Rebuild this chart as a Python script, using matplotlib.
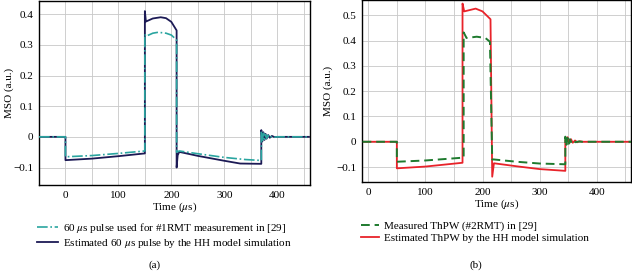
import numpy as np
import matplotlib
matplotlib.use("Agg")
import matplotlib.pyplot as plt

plt.rcParams['font.family'] = ['Liberation Serif', 'DejaVu Serif']
plt.rcParams['mathtext.fontset'] = 'stix'
plt.rcParams['font.size'] = 8

# (a) 60 us pulse
t_a_meas = [-50, 0, 0, 50, 100, 150, 150, 152, 165, 175, 190, 200, 210, 210, 215, 250, 300, 340, 370,
            370, 372, 374, 376, 378, 380, 383, 386, 390, 395, 400, 460]
v_a_meas = [0, 0, -0.065, -0.061, -0.054, -0.046, 0.335, 0.328, 0.338, 0.341, 0.338, 0.332, 0.316, -0.05, -0.046,
            -0.055, -0.067, -0.074, -0.077,
            0.015, -0.012, 0.012, -0.008, 0.008, -0.005, 0.005, -0.003, 0.002, -0.001, 0, 0]
t_a_est = [-50, 0, 0, 50, 100, 150, 150, 152, 165, 180, 190, 200, 210, 210, 212, 215, 250, 300, 330, 370,
           370, 372, 374, 376, 378, 380, 383, 386, 390, 395, 400, 460]
v_a_est = [0, 0, -0.076, -0.071, -0.063, -0.054, 0.41, 0.376, 0.386, 0.39, 0.387, 0.375, 0.347, -0.1, -0.06, -0.049,
           -0.062, -0.078, -0.087, -0.088,
           0.022, -0.015, 0.015, -0.01, 0.01, -0.006, 0.006, -0.003, 0.003, -0.001, 0, 0]

# (b) ThPW
t_b_meas = [-10, 50, 50, 100, 165, 167, 167, 172, 190, 205, 213, 217, 220, 260, 300, 345,
            345, 347, 349, 351, 353, 356, 359, 363, 368, 375, 460]
v_b_meas = [0, 0, -0.079, -0.074, -0.063, -0.063, 0.432, 0.41, 0.415, 0.41, 0.395, -0.07, -0.07, -0.079, -0.086, -0.089,
            0.02, -0.012, 0.015, -0.008, 0.01, -0.005, 0.005, -0.002, 0.001, 0, 0]
t_b_est = [-10, 50, 50, 100, 165, 165, 168, 188, 200, 214, 217, 220, 260, 300, 345,
           345, 349, 352, 355, 358, 362, 366, 370, 375, 380, 460]
v_b_est = [0, 0, -0.105, -0.098, -0.083, 0.546, 0.515, 0.526, 0.515, 0.484, -0.138, -0.085, -0.097, -0.108, -0.115,
           0.005, 0.018, -0.006, 0.01, -0.004, 0.005, -0.002, 0.002, 0, 0, 0]

fig = plt.figure(figsize=(6.32, 2.71), dpi=100)
W, H = 632, 271

def axes_px(x0, x1, y0, y1):
    return fig.add_axes([x0 / W, 1 - y1 / H, (x1 - x0) / W, (y1 - y0) / H])

def style(ax, xlim, ylim, yticks, ylab_x):
    ax.set_xticks([0, 100, 200, 300, 400])
    ax.set_xticks(np.arange(-50, 451, 50), minor=True)
    ax.set_yticks(yticks)
    ax.set_yticklabels(['0' if abs(v) < 1e-9 else f'{v:g}'.replace('-', '\u2212') for v in yticks])
    # ticks can widen the view, so limits go last
    ax.set_xlim(*xlim)
    ax.set_ylim(*ylim)
    ax.grid(True, which='both', color='#c8c8c8', lw=0.6)
    ax.tick_params(which='both', length=0, pad=4)
    for s in ax.spines.values():
        s.set_linewidth(1.0)
    ax.set_axisbelow(True)
    ax.set_xlabel('Time ($\\mu$s)', labelpad=1)
    ax.set_ylabel('MSO (a.u.)')
    ax.yaxis.set_label_coords(ylab_x, 0.5)

ax1 = axes_px(39, 310, 1, 185)
ax1.plot(t_a_meas, v_a_meas, color='#2aa5a0', ls='-.', lw=1.2,
         label='60 $\\mu$s pulse used for #1RMT measurement in [29]', zorder=3)
ax1.plot(t_a_est, v_a_est, color='#1c1a55', ls='-', lw=1.3,
         label='Estimated 60 $\\mu$s pulse by the HH model simulation', zorder=2)
style(ax1, (-50, 462), (-0.157, 0.443), [-0.1, 0, 0.1, 0.2, 0.3, 0.4], -0.094)

ax2 = axes_px(362, 631, 0, 182)
ax2.plot(t_b_meas, v_b_meas, color='#1e7a2e', ls=(0, (4.5, 2.5)), lw=1.4,
         label='Measured ThPW (#2RMT) in [29]', zorder=3)
ax2.plot(t_b_est, v_b_est, color='#e8232a', ls='-', lw=1.3,
         label='Estimated ThPW by the HH model simulation', zorder=2)
style(ax2, (-11, 460), (-0.159, 0.56), [-0.1, 0, 0.1, 0.2, 0.3, 0.4, 0.5], -0.108)

for ax, xl, hl in ((ax1, 37 / W, 1.9), (ax2, 361 / W, 1.6)):
    h, l = ax.get_legend_handles_labels()
    fig.legend(h, l, loc='upper left', bbox_to_anchor=(xl, 1 - 221 / H), frameon=False,
               handlelength=hl, handletextpad=0.45, labelspacing=0.2, borderpad=0, borderaxespad=0)

fig.text(155 / W, 1 - 265 / H, '(a)', ha='center', va='center')
fig.text(476 / W, 1 - 265 / H, '(b)', ha='center', va='center')

fig.savefig('out.png', dpi=100)
